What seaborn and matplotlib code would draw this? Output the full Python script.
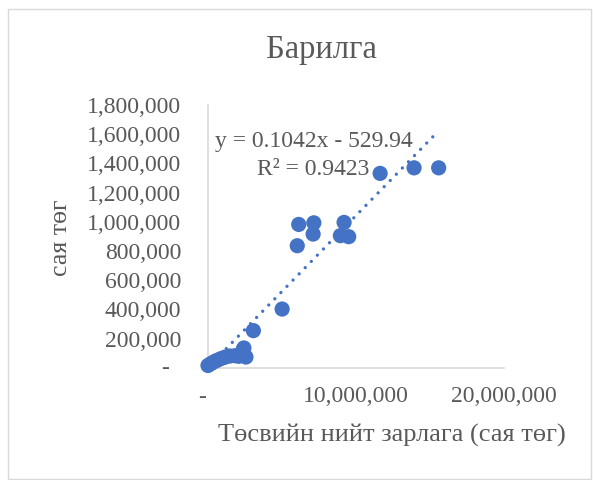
import numpy as np
import pandas as pd
import matplotlib
matplotlib.use("Agg")
import matplotlib.pyplot as plt
from matplotlib.patches import Rectangle
from matplotlib.ticker import FuncFormatter, MultipleLocator
import seaborn as sns

# Total budget expenditure (mln tugrik) vs. construction sector (mln tugrik)
budget_total = [30_000, 230_000, 430_000, 630_000, 900_000, 1_170_000, 1_500_000,
                1_850_000, 2_100_000, 2_390_000, 2_590_000, 2_450_000, 3_090_000,
                5_030_000, 6_050_000, 6_150_000, 7_120_000, 7_170_000, 8_960_000,
                9_210_000, 9_520_000, 11_640_000, 13_930_000, 15_590_000]
construction = [15_000, 28_000, 40_000, 50_000, 62_000, 72_000, 80_000,
                82_000, 78_000, 121_000, 73_000, 135_000, 254_000,
                402_000, 836_000, 982_000, 916_000, 993_000, 905_000,
                996_000, 898_000, 1_332_000, 1_370_000, 1_370_000]

# Linear trendline coefficients shown in the label
slope = 0.1042
intercept = -529.94

title = "Барилга"
x_label = "Төсвийн нийт зарлага (сая төг)"
y_label = "сая төг"

df = pd.DataFrame({"budget": budget_total, "construction": construction})

sns.set_theme(style="white")
plt.rcParams["font.family"] = ["Liberation Serif", "DejaVu Serif"]

text_color = "#595959"
axis_color = "#d9d9d9"
point_color = "#4472C4"

fig = plt.figure(figsize=(5.93, 4.80), dpi=100)
fig.patch.set_facecolor("white")
ax = fig.add_axes([0.350, 0.234, 0.500, 0.547])

sns.scatterplot(data=df, x="budget", y="construction", ax=ax, s=120,
                color=point_color, edgecolor="none", linewidth=0, zorder=3,
                clip_on=False)

# Trendline from the fitted equation
xt = np.array([df["budget"].min(), df["budget"].max()])
yt = slope * xt + intercept
ax.plot(xt, yt, color=point_color, linewidth=2.4,
        linestyle=(0, (0.01, 2.6)), dash_capstyle="round", zorder=4)

ax.set_xlim(0, 20_000_000)
ax.set_ylim(0, 1_800_000)
ax.xaxis.set_major_locator(MultipleLocator(10_000_000))
ax.yaxis.set_major_locator(MultipleLocator(200_000))

# zero is written as a dash, placed accounting-style below
fmt = FuncFormatter(lambda v, pos: "" if v == 0 else f"{v:,.0f}")
ax.xaxis.set_major_formatter(fmt)
ax.yaxis.set_major_formatter(fmt)

ax.set_xlabel("")
ax.set_ylabel("")
ax.tick_params(axis="both", length=0, labelsize=17, labelcolor=text_color)
ax.tick_params(axis="y", pad=19)
ax.tick_params(axis="x", pad=13)

for side in ("top", "right"):
    ax.spines[side].set_visible(False)
for side in ("left", "bottom"):
    ax.spines[side].set_color(axis_color)
    ax.spines[side].set_linewidth(1.2)

ax.annotate("-", xy=(0, 0), xycoords="data", xytext=(-42.6, -1),
            textcoords="offset pixels", ha="center", va="center",
            fontsize=17, color=text_color, annotation_clip=False)
ax.annotate("-", xy=(0, 0), xycoords="data", xytext=(-5.6, -30),
            textcoords="offset pixels", ha="center", va="center",
            fontsize=17, color=text_color, annotation_clip=False)

fig.text(321 / 593, 1 - 58.3 / 480, title, ha="center", va="baseline",
         fontsize=23.5, color=text_color)
fig.text(392 / 593, 1 - 441.7 / 480, x_label, ha="center", va="baseline",
         fontsize=19, color=text_color)
fig.text(61 / 593, 1 - 238 / 480, y_label, ha="center", va="center",
         rotation=90, fontsize=18.5, color=text_color)

fig.text(313.5 / 593, 1 - 146.7 / 480, f"y = {slope}x - {abs(intercept)}",
         ha="center", va="baseline", fontsize=17, color=text_color)
fig.text(313 / 593, 1 - 175 / 480, "R² = 0.9423",
         ha="center", va="baseline", fontsize=17, color=text_color)

fig.patches.append(Rectangle((8 / 593, 1 / 480), 583 / 593, 470 / 480,
                             transform=fig.transFigure, fill=False,
                             edgecolor=axis_color, linewidth=1.0))

fig.savefig("out.png", dpi=100, facecolor="white")
